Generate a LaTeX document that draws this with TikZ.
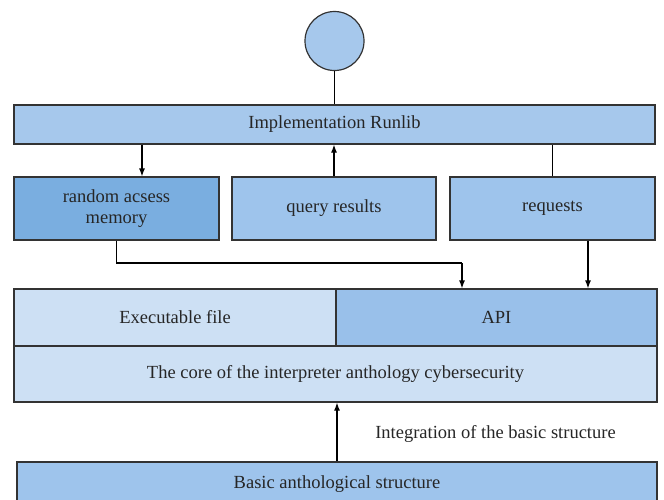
\documentclass[tikz,border=0pt]{standalone}
\usepackage{fontspec}
\setmainfont{Liberation Serif}
\usetikzlibrary{arrows.meta,positioning}
\definecolor{lightblue}{HTML}{A6C8EC}
\definecolor{midblue}{HTML}{9EC4EC}
\definecolor{darkblue}{HTML}{7AAEE0}
\definecolor{paleblue}{HTML}{CDE0F4}
\definecolor{apiblue}{HTML}{99C0EA}
\begin{document}
\begin{tikzpicture}[x=1pt,y=-1pt,
    box/.style = {draw=black!80, line width=1.2pt, inner sep=0pt, align=center,
                  font=\fontsize{18.5}{21}\selectfont, text=black!85},
    >={Latex[length=8pt,width=6pt]}, line width=1.2pt]
        \useasboundingbox (0,0) rectangle (664,499);
        \node[box, circle, fill=lightblue, minimum size=59pt] (top) at (334.5,41) {};
        \node[box, fill=lightblue, minimum width=641pt, minimum height=39pt] (runlib) at (334.5,124.5) {Implementation Runlib};
        \node[box, fill=darkblue, minimum width=205pt, minimum height=63pt] (ram) at (116.5,208.5) {random acsess\\memory};
        \node[box, fill=midblue, minimum width=204pt, minimum height=63pt] (query) at (334,208.5) {query results};
        \node[box, fill=midblue, minimum width=205pt, minimum height=63pt] (req) at (552.5,208.5) {requests};
        \node[box, fill=paleblue, minimum width=322pt, minimum height=57pt] (exe) at (175,317.5) {Executable file};
        \node[box, fill=apiblue, minimum width=321pt, minimum height=57pt] (api) at (496.5,317.5) {API};
        \node[box, fill=paleblue, minimum width=643pt, minimum height=56pt] (core) at (335.5,374) {The core of the interpreter anthology cybersecurity};
        \node[box, fill=midblue, minimum width=640pt, minimum height=44pt] (basic) at (337,484) {Basic anthological structure};
        \node[font=\fontsize{18.5}{21}\selectfont, text=black!85] (integ) at (495.5,434) {Integration of the basic structure};
        \coordinate (ramin) at ([xshift=25.5pt]ram.north);
        \coordinate (bend) at (462,263);
        \coordinate (reqout) at ([xshift=35.5pt]req.south);
        \draw (top) -- (runlib);
        \draw[->] (runlib.south -| ramin) -- (ramin);
        \draw[->] (query.north) -- (query.north |- runlib.south);
        \draw (req.north) -- (req.north |- runlib.south);
        \draw (ram.south) |- (bend);
        \draw[->] (bend) -- (bend |- api.north);
        \draw[->] (reqout) -- (reqout |- api.north);
        \draw[->] (basic.north) -- (basic.north |- core.south);
\end{tikzpicture}
\end{document}
